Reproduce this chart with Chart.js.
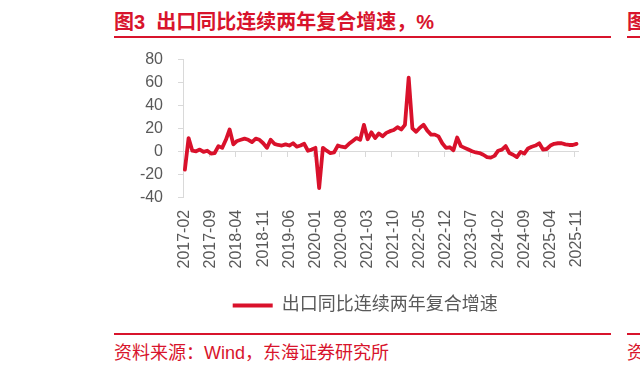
<!DOCTYPE html>
<html>
<head>
<meta charset="utf-8">
<script src="https://cdn.jsdelivr.net/npm/chart.js@4/dist/chart.umd.min.js"></script>
<style>
  html, body { margin: 0; padding: 0; background: #ffffff; }
  body { width: 640px; height: 369px; position: relative; overflow: hidden; }
  #wrap { position: absolute; left: 0; top: 0; width: 640px; height: 369px; }
  .t { position: absolute; white-space: pre; color: #D8142C; font-family: "Liberation Sans", "Noto Sans CJK SC", sans-serif; }
  .rule { position: absolute; background: #D8142C; }
</style>
</head>
<body>
<div class="t" style="left:114px; top:6px; font-size:20px; font-weight:bold;">图3  出口同比连续两年复合增速，%</div>
<div class="rule" style="left:114px; top:36px; width:497px; height:2px;"></div>
<div class="t" style="left:627px; top:6px; font-size:20px; font-weight:bold;">图</div>
<div class="rule" style="left:627px; top:36px; width:13px; height:2px;"></div>
<div class="rule" style="left:114px; top:333px; width:497px; height:1.5px;"></div>
<div class="rule" style="left:627px; top:333px; width:13px; height:1.5px;"></div>
<div class="t" style="left:114px; top:338px; font-size:18px;">资料来源：Wind，东海证券研究所</div>
<div class="t" style="left:627px; top:338px; font-size:18px;">资</div>
<div id="wrap"><canvas id="c" width="640" height="369"></canvas></div>
<script>
// ---- data ----
const startYear = 2017, startMonth = 2, monthCount = 106; // 2017-02 .. 2025-11
const categories = [];
for (let i = 0; i < monthCount; i++) {
  const t = (startMonth - 1) + i;
  const y = startYear + Math.floor(t / 12);
  const m = (t % 12) + 1;
  categories.push(y + '-' + (m < 10 ? '0' + m : '' + m));
}
const tickLabels = ['2017-02','2017-09','2018-04','2018-11','2019-06','2020-01','2020-08','2021-03',
  '2021-10','2022-05','2022-12','2023-07','2024-02','2024-09','2025-04','2025-11'];
const seriesName = '出口同比连续两年复合增速';
const exportGrowth2y = [
  -16, 11.5, 0.5, 0, 1.5, -0.5, 0.5, -2, -1.5, 4.5, 3, 10,
  19, 6, 9, 10, 11, 10, 8, 11, 10, 7, 3, 10,
  6.5, 5.5, 5, 6, 5, 7, 4, 5, 6.5, 0.5, 1.5, 3,
  -32, 3, 0.5, -1.5, -1, 5, 4, 3.5, 6.5, 9, 11.5, 10,
  23, 10.5, 16.5, 11.5, 15.5, 13, 16, 17.5, 18.5, 21, 19, 23,
  64, 20, 17, 20.5, 23, 18, 14.5, 14.5, 13, 7, 3, 3.5,
  1, 12, 4.5, 3, 1.5, 0, -1, -1.5, -3, -5, -5.5, -4,
  0.5, 1.5, 4.5, -1.5, -3, -5, -0.5, -2, 2.5, 4, 5, 7,
  1.5, 2, 5, 6.5, 7, 7, 6, 5.5, 5.5, 6.5
];
const yTicks = { min: -40, max: 80, step: 20 };

// ---- styles ----
const RED = '#D9112B';
const GREY_TXT = '#595959';
const GREY_AX = '#D9D9D9';
const FONT = '"Liberation Sans", "Noto Sans CJK SC", sans-serif';

// shift the legend horizontally so it sits where the reference legend is
const legendShift = {
  id: 'legendShift',
  afterLayout(chart) {
    const lg = chart.legend;
    if (lg) { lg.left += 26; lg.right += 26; }
  }
};

new Chart(document.getElementById('c'), {
  type: 'line',
  data: {
    labels: categories,
    datasets: [{
      label: seriesName,
      data: exportGrowth2y,
      xAxisID: 'x',
      yAxisID: 'y',
      borderColor: RED,
      backgroundColor: RED,
      borderWidth: 3.8,
      pointRadius: 0,
      pointHoverRadius: 0,
      tension: 0,
      borderJoinStyle: 'round',
      borderCapStyle: 'round',
      fill: false
    }]
  },
  plugins: [legendShift],
  options: {
    responsive: false,
    animation: false,
    devicePixelRatio: 1,
    layout: { padding: { left: 100, right: 61.6, top: 59.3, bottom: 44.5 } },
    plugins: {
      tooltip: { enabled: false },
      legend: {
        display: true,
        position: 'bottom',
        labels: {
          color: GREY_TXT,
          font: { family: FONT, size: 18 },
          boxWidth: 40,
          boxHeight: 4,
          padding: 10,
          generateLabels(chart) {
            const items = Chart.defaults.plugins.legend.labels.generateLabels(chart);
            items.forEach(it => { it.lineWidth = 0; it.fillStyle = RED; it.strokeStyle = RED; });
            return items;
          }
        }
      }
    },
    scales: {
      x: {
        type: 'category',
        position: 'bottom',
        offset: true,
        grid: { display: false, drawTicks: false, offset: true },
        border: { display: false },
        ticks: {
          autoSkip: false,
          maxRotation: 90,
          minRotation: 90,
          padding: 12.5,
          color: GREY_TXT,
          font: { family: FONT, size: 16 },
          callback(val, i) {
            const lab = categories[i];
            return tickLabels.includes(lab) ? lab : null;
          }
        },
        afterFit(scale) { scale.height = 89.2; }
      },
      x2: {
        type: 'category',
        axis: 'x',
        position: { y: 0 },
        offset: true,
        grid: {
          display: true,
          drawOnChartArea: false,
          drawTicks: true,
          tickLength: 5,
          offset: true,
          color(ctx) { return (ctx.index % 7 === 0) ? GREY_AX : 'rgba(0,0,0,0)'; }
        },
        border: { display: true, color: GREY_AX, width: 1 },
        ticks: { display: false, autoSkip: false }
      },
      y: {
        type: 'linear',
        position: 'left',
        min: yTicks.min,
        max: yTicks.max,
        grid: { display: true, drawOnChartArea: false, drawTicks: true, tickLength: 5, color: GREY_AX },
        border: { display: true, color: GREY_AX, width: 1 },
        ticks: {
          stepSize: yTicks.step,
          padding: 15,
          color: GREY_TXT,
          font: { family: FONT, size: 16 }
        },
        afterFit(scale) { scale.width = 83; }
      }
    }
  }
});
</script>
</body>
</html>
